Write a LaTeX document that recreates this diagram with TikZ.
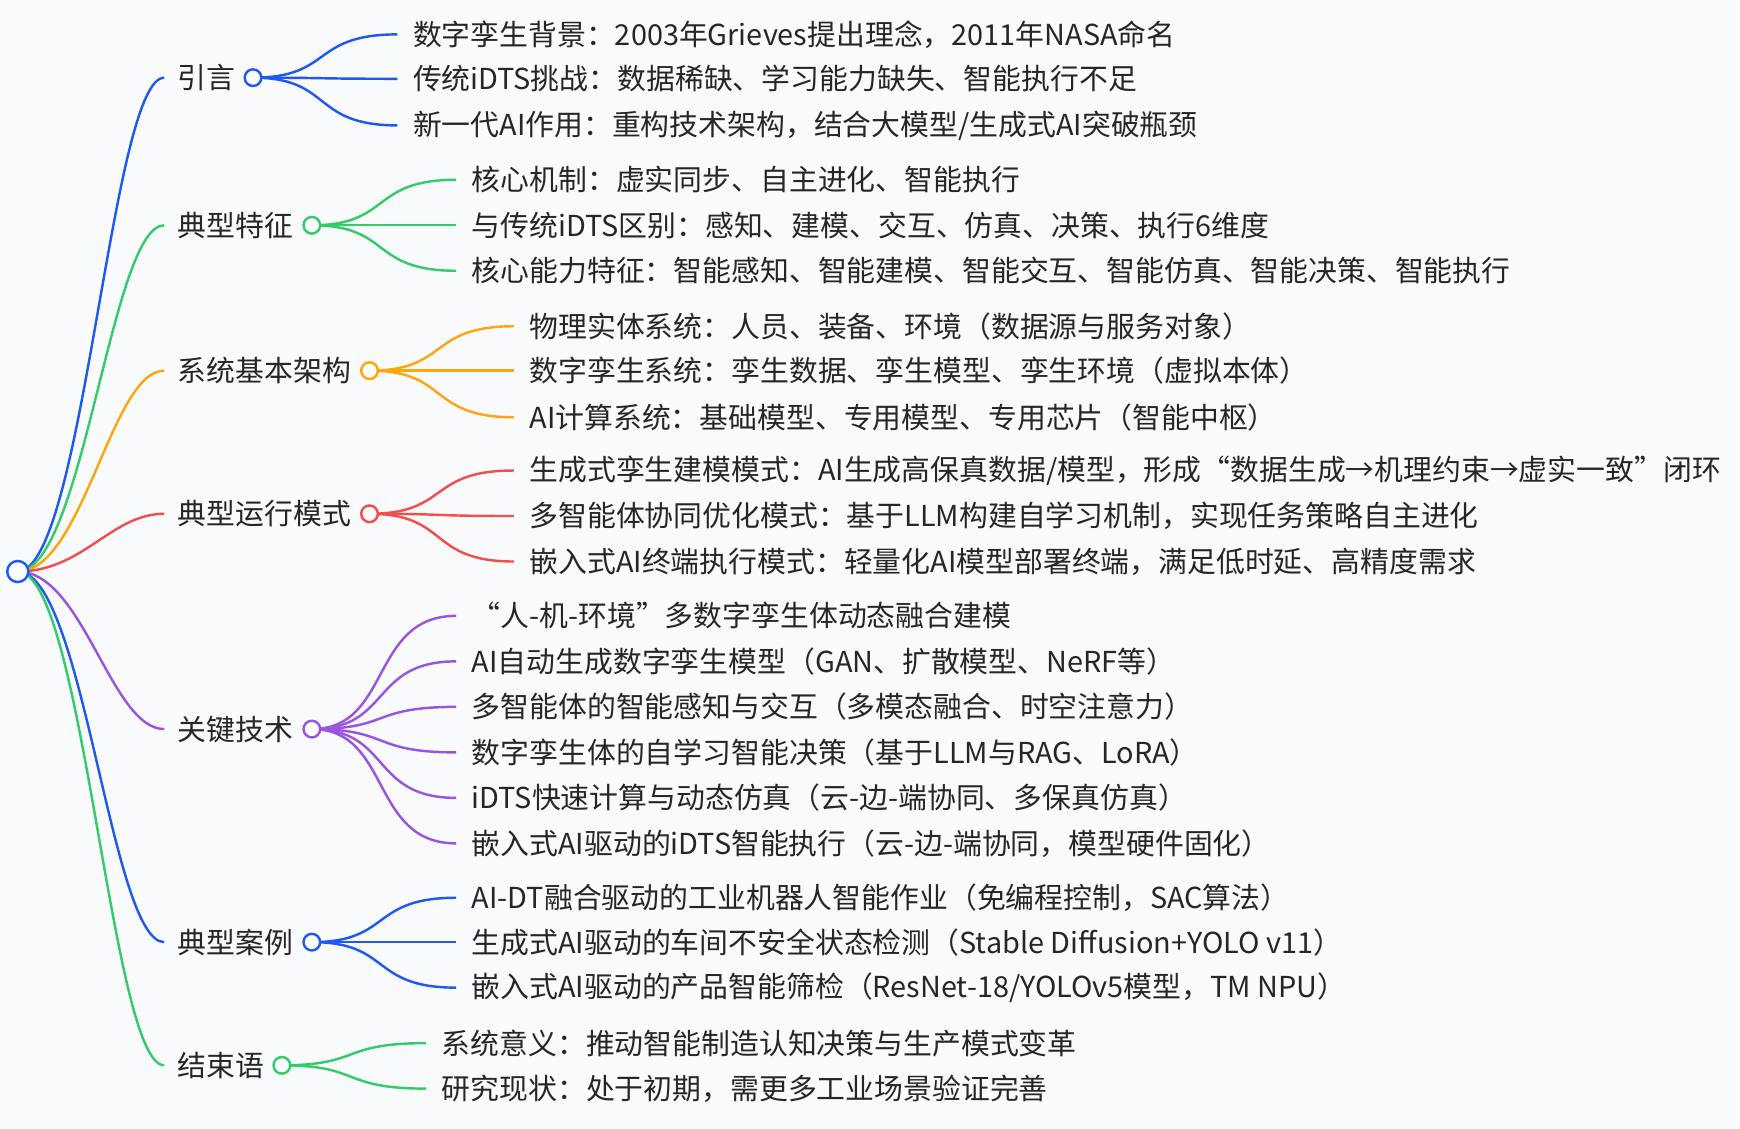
\documentclass[tikz,border=0pt]{standalone}
\usepackage{fontspec}
\setmainfont{Noto Sans CJK SC}
\definecolor{cblue}{HTML}{1F5AF0}
\definecolor{cgreen}{HTML}{34CC6A}
\definecolor{corange}{HTML}{FFA510}
\definecolor{cred}{HTML}{F24E4E}
\definecolor{cpurple}{HTML}{9A55E0}
\definecolor{bg}{HTML}{F9FAFC}
\newcommand{\myslash}{/}
\tikzset{lbl/.style={anchor=west,inner sep=0pt,font=\fontsize{26}{30}\selectfont,text=black!85},
  dot/.style={circle,draw,line width=2.2pt,fill=white,minimum size=15pt,inner sep=0pt},
  br/.style={line width=2.2pt}}
\begin{document}
\begin{tikzpicture}[x=1pt,y=-1pt]
\fill[bg] (0,0) rectangle (1568,1017);
\useasboundingbox (0,0) rectangle (1568,1017);
\coordinate (root) at (16,515);
\newcommand{\mybranch}[6]{%
  \draw[br,#1] (root) .. controls (75,515) and (100,#3) .. (148,#3);
  \node[lbl] at (160,#3) {#2};
  \foreach \yy/\tt in {#6}{
    \node[lbl] at (#5,\yy) {\tt};
    \draw[br,#1] (#4,#3) .. controls ({(#4+#5)/2},#3) and ({(#4+#5)/2-20},\yy) .. ({#5-14},\yy);
  }
  \node[dot,draw=#1] at (#4,#3) {};
}
\mybranch{cblue}{引言}{70}{228}{372}{31/数字孪生背景：2003年Grieves提出理念，2011年NASA命名,71/传统iDTS挑战：数据稀缺、学习能力缺失、智能执行不足,113/新一代AI作用：重构技术架构，结合大模型\myslash 生成式AI突破瓶颈}
\mybranch{cgreen}{典型特征}{203}{281}{425}{162/核心机制：虚实同步、自主进化、智能执行,203/与传统iDTS区别：感知、建模、交互、仿真、决策、执行6维度,244/核心能力特征：智能感知、智能建模、智能交互、智能仿真、智能决策、智能执行}
\mybranch{corange}{系统基本架构}{334}{333}{477}{294/物理实体系统：人员、装备、环境（数据源与服务对象）,334/数字孪生系统：孪生数据、孪生模型、孪生环境（虚拟本体）,376/AI计算系统：基础模型、专用模型、专用芯片（智能中枢）}
\mybranch{cred}{典型运行模式}{463}{333}{477}{424/生成式孪生建模模式：AI生成高保真数据\myslash 模型，形成“数据生成→机理约束→虚实一致”闭环,465/多智能体协同优化模式：基于LLM构建自学习机制，实现任务策略自主进化,506/嵌入式AI终端执行模式：轻量化AI模型部署终端，满足低时延、高精度需求}
\mybranch{cpurple}{关键技术}{657}{281}{425}{555/“人-机-环境”多数字孪生体动态融合建模,596/AI自动生成数字孪生模型（GAN、扩散模型、NeRF等）,637/多智能体的智能感知与交互（多模态融合、时空注意力）,678/数字孪生体的自学习智能决策（基于LLM与RAG、LoRA）,719/iDTS快速计算与动态仿真（云-边-端协同、多保真仿真）,760/嵌入式AI驱动的iDTS智能执行（云-边-端协同，模型硬件固化）}
\mybranch{cblue}{典型案例}{849}{281}{425}{809/AI-DT融合驱动的工业机器人智能作业（免编程控制，SAC算法）,849/生成式AI驱动的车间不安全状态检测（Stable Diffusion+YOLO v11）,890/嵌入式AI驱动的产品智能筛检（ResNet-18\myslash YOLOv5模型，TM NPU）}
\mybranch{cgreen}{结束语}{960}{254}{398}{940/系统意义：推动智能制造认知决策与生产模式变革,981/研究现状：处于初期，需更多工业场景验证完善}
\node[dot,draw=cblue,minimum size=19pt] at (root) {};
\end{tikzpicture}
\end{document}
